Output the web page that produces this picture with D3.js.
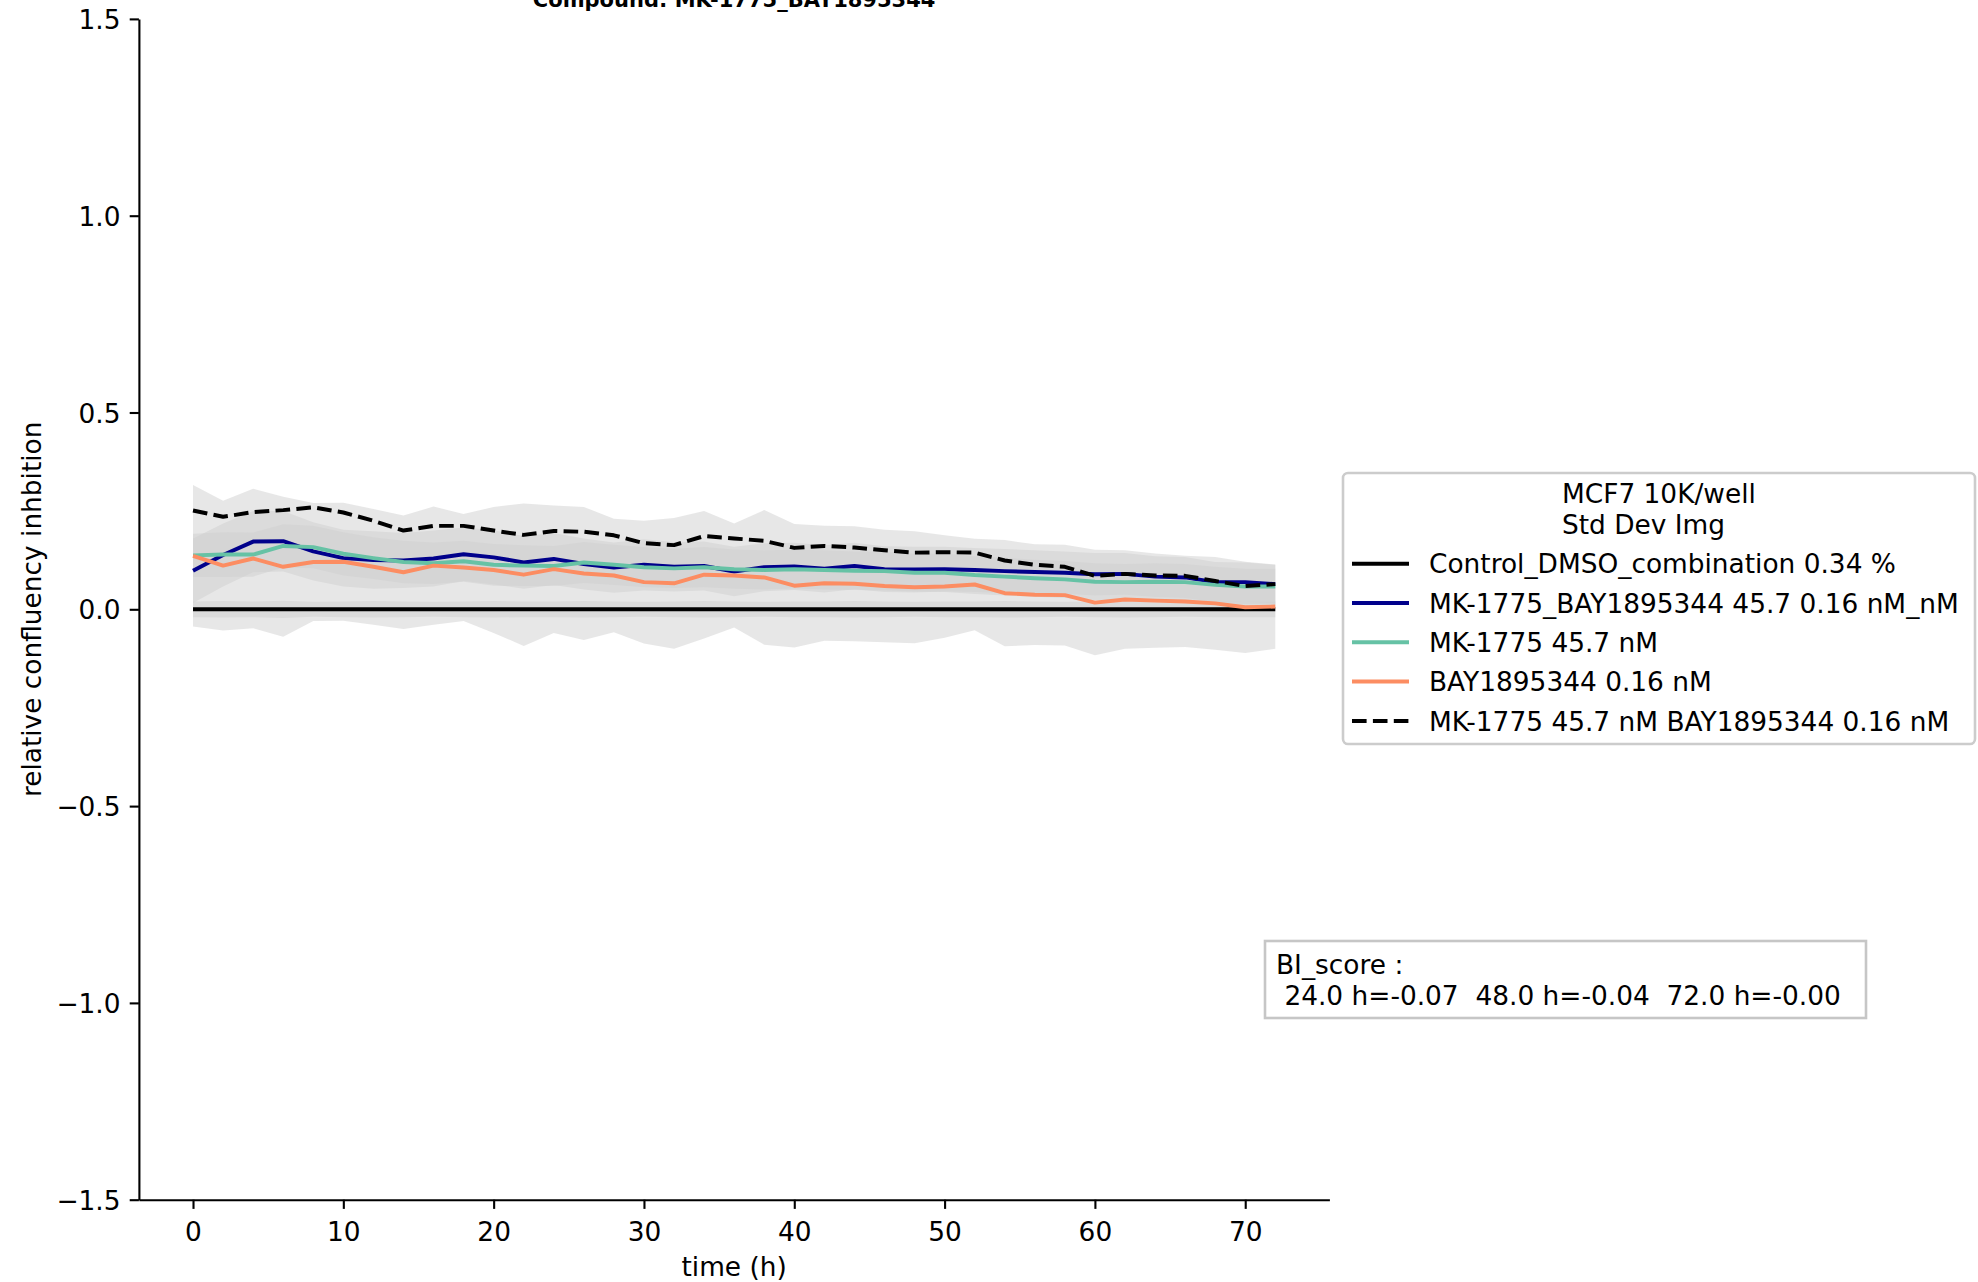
<!DOCTYPE html>
<html><head><meta charset="utf-8">
<script src="https://cdn.jsdelivr.net/npm/d3@7"></script>
<style>
html,body{margin:0;padding:0;background:#fff;}
svg{display:block;}
text{font-family:"DejaVu Sans",sans-serif;fill:#000;}
</style></head><body>
<svg id="chart" width="1978" height="1282"></svg>
<script>
// ---------- data ----------
const times = [0,2,4,6,8,10,12,14,16,18,20,22,24,26,28,30,32,34,36,38,40,42,44,46,48,50,52,54,56,58,60,62,64,66,68,70,72];

const controlMean = [0,0,0,0,0,0,0,0,0,0,0,0,0,0,0,0,0,0,0,0,0,0,0,0,0,0,0,0,0,0,0,0,0,0,0,0,0];
const controlStd  = [0.020,0.021,0.020,0.022,0.019,0.020,0.021,0.020,0.019,0.020,0.021,0.020,0.020,0.021,0.020,0.019,0.020,0.021,0.020,0.019,0.020,0.020,0.021,0.020,0.019,0.020,0.020,0.021,0.020,0.019,0.020,0.021,0.020,0.019,0.020,0.020,0.020];

const comboMean = [0.098,0.138,0.172,0.173,0.147,0.130,0.125,0.124,0.129,0.140,0.132,0.119,0.128,0.115,0.106,0.113,0.108,0.110,0.096,0.107,0.109,0.103,0.110,0.102,0.101,0.102,0.100,0.097,0.095,0.093,0.089,0.090,0.083,0.081,0.069,0.069,0.064];
const comboStd  = [0.082,0.080,0.078,0.077,0.074,0.072,0.073,0.070,0.071,0.068,0.069,0.067,0.066,0.065,0.064,0.065,0.063,0.062,0.063,0.061,0.060,0.060,0.059,0.058,0.058,0.057,0.056,0.056,0.055,0.054,0.054,0.053,0.052,0.052,0.051,0.050,0.049];

const mkMean = [0.137,0.139,0.139,0.161,0.158,0.141,0.130,0.120,0.117,0.122,0.113,0.111,0.110,0.119,0.113,0.107,0.104,0.107,0.102,0.100,0.102,0.100,0.098,0.097,0.093,0.093,0.087,0.083,0.079,0.076,0.070,0.069,0.070,0.069,0.062,0.058,0.058];
const mkStd  = [0.055,0.057,0.056,0.055,0.054,0.055,0.053,0.054,0.053,0.052,0.053,0.052,0.051,0.052,0.051,0.051,0.050,0.051,0.050,0.050,0.049,0.050,0.049,0.049,0.048,0.049,0.048,0.048,0.047,0.047,0.047,0.046,0.047,0.046,0.046,0.045,0.045];

const bayMean = [0.136,0.111,0.129,0.108,0.120,0.121,0.108,0.094,0.111,0.106,0.100,0.088,0.102,0.091,0.086,0.069,0.066,0.088,0.086,0.081,0.060,0.066,0.065,0.059,0.056,0.058,0.063,0.041,0.037,0.036,0.017,0.025,0.022,0.020,0.015,0.005,0.007];
const bayStd  = [0.180,0.165,0.177,0.178,0.150,0.150,0.147,0.144,0.150,0.136,0.160,0.181,0.162,0.169,0.144,0.156,0.166,0.162,0.132,0.171,0.157,0.146,0.146,0.143,0.142,0.130,0.116,0.135,0.128,0.128,0.134,0.125,0.120,0.116,0.118,0.116,0.107];

const expectedMean = [0.251,0.235,0.247,0.252,0.259,0.246,0.225,0.200,0.212,0.212,0.200,0.189,0.199,0.197,0.188,0.168,0.163,0.186,0.180,0.174,0.156,0.161,0.157,0.150,0.144,0.145,0.144,0.124,0.113,0.108,0.085,0.090,0.086,0.085,0.072,0.059,0.064];

const seriesLabels = [
  "Control_DMSO_combination 0.34 %",
  "MK-1775_BAY1895344 45.7 0.16 nM_nM",
  "MK-1775 45.7 nM",
  "BAY1895344 0.16 nM",
  "MK-1775 45.7 nM BAY1895344 0.16 nM"
];
const seriesColors = ["#000000", "#00008b", "#66c2a5", "#fc8d62", "#000000"];
const seriesDash   = [null, null, null, null, "14.6,6.3"];

const xTicks = [0,10,20,30,40,50,60,70];
const yTicks = [-1.5,-1.0,-0.5,0.0,0.5,1.0,1.5];

const titleText = "Compound: MK-1775_BAY1895344";
const xLabel = "time (h)";
const yLabel = "relative confluency inhbition";
const legendTitle = ["MCF7 10K/well", "Std Dev Img"];
const biLines = ["BI_score :", " 24.0 h=-0.07  48.0 h=-0.04  72.0 h=-0.00"];

// ---------- layout ----------
const FS = 26.4;
const svg = d3.select("#chart");
const L = 138.9, R = 1329.4, T = 18.9, B = 1199.7;
const x = d3.scaleLinear().domain([-3.6, 75.6]).range([L, R]);
const y = d3.scaleLinear().domain([-1.5, 1.5]).range([B, T]);

const means = [controlMean, comboMean, mkMean, bayMean, expectedMean];
const stds  = [controlStd, comboStd, mkStd, bayStd, null];

// bands
const bandG = svg.append("g");
stds.forEach((s, k) => {
  if (!s) return;
  const m = means[k];
  const area = d3.area()
    .x((d, i) => x(times[i]))
    .y0((d, i) => y(m[i] - s[i]))
    .y1((d, i) => y(m[i] + s[i]));
  bandG.append("path").datum(times).attr("d", area)
    .attr("fill", "#cfcfcf").attr("fill-opacity", 0.5).attr("stroke", "none");
});

// lines
const lineG = svg.append("g");
means.forEach((m, k) => {
  const line = d3.line().x((d, i) => x(times[i])).y((d, i) => y(m[i]));
  lineG.append("path").datum(times).attr("d", line)
    .attr("fill", "none").attr("stroke", seriesColors[k])
    .attr("stroke-width", 3.96)
    .attr("stroke-linejoin", "round")
    .attr("stroke-dasharray", seriesDash[k]);
});

// axes
const xAxis = d3.axisBottom(x).tickValues(xTicks).tickFormat(d3.format("d"))
  .tickSize(9.2).tickSizeOuter(0).tickPadding(9.2);
const gx = svg.append("g").attr("transform", `translate(0,${B})`).call(xAxis);
gx.selectAll("text").attr("dy", "0.86em").style("font-size", FS + "px").style("font-family", '"DejaVu Sans"');

const fmtY = d => (d < 0 ? "\u2212" : "") + Math.abs(d).toFixed(1);
const yAxis = d3.axisLeft(y).tickValues(yTicks).tickFormat(fmtY)
  .tickSize(9.2).tickSizeOuter(0).tickPadding(9.2);
const gy = svg.append("g").attr("transform", `translate(${L},0)`).call(yAxis);
gy.selectAll("text").attr("dy", "0.364em").style("font-size", FS + "px").style("font-family", '"DejaVu Sans"');

[gx, gy].forEach(g => {
  g.select(".domain").attr("stroke", "#000").attr("stroke-width", 2.1);
  g.selectAll(".tick line").attr("stroke", "#000").attr("stroke-width", 2.1);
});

// labels
svg.append("text").attr("x", (L + R) / 2).attr("y", 1275.5)
  .attr("text-anchor", "middle").style("font-size", FS + "px").text(xLabel);
svg.append("text").attr("transform", `translate(40.8,${(T + B) / 2}) rotate(-90)`)
  .attr("text-anchor", "middle").style("font-size", FS + "px").text(yLabel);
svg.append("text").attr("x", (L + R) / 2).attr("y", 6.5)
  .attr("text-anchor", "middle").style("font-size", "21px").style("font-weight", "bold").text(titleText);

// legend
const lg = svg.append("g");
const lx0 = 1343, ly0 = 473, lw = 632, lh = 271;
lg.append("rect").attr("x", lx0).attr("y", ly0).attr("width", lw).attr("height", lh)
  .attr("rx", 5).attr("fill", "#fff").attr("fill-opacity", 0.8)
  .attr("stroke", "#cccccc").attr("stroke-width", 2.6);
const tBlock = lg.append("text").style("font-size", FS + "px");
legendTitle.forEach((t, i) => {
  tBlock.append("tspan").attr("x", 1562).attr("y", 502.6 + i * 31.7).text(t);
});
seriesLabels.forEach((lab, i) => {
  const by = 573.3 + i * 39.3;
  lg.append("line").attr("x1", 1352).attr("x2", 1409).attr("y1", by - 9.6).attr("y2", by - 9.6)
    .attr("stroke", seriesColors[i]).attr("stroke-width", 3.96)
    .attr("stroke-dasharray", seriesDash[i]);
  lg.append("text").attr("x", 1429).attr("y", by).style("font-size", FS + "px").text(lab);
});

// BI score box
const bg = svg.append("g");
bg.append("rect").attr("x", 1265).attr("y", 941).attr("width", 601).attr("height", 77)
  .attr("fill", "#fff").attr("stroke", "#c6c6c6").attr("stroke-width", 2.6);
biLines.forEach((t, i) => {
  bg.append("text").attr("x", 1276).attr("y", 973.5 + i * 31.2)
    .style("font-size", FS + "px").style("white-space", "pre").attr("xml:space", "preserve").text(t);
});
</script>
</body></html>
